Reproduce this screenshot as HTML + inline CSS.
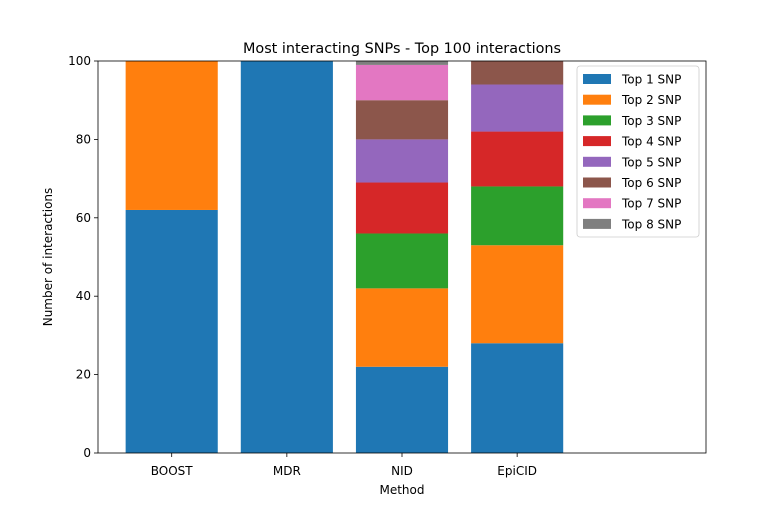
<!DOCTYPE html>
<html><head><meta charset="utf-8"><style>
body{margin:0;background:#fff;}
svg{display:block;font-family:"DejaVu Sans","Liberation Sans",sans-serif;}
</style></head><body>
<svg id="chart" width="784" height="509" viewBox="0 0 784 509"></svg>
<script>
const categories = ["BOOST","MDR","NID","EpiCID"];
const seriesNames = ["Top 1 SNP","Top 2 SNP","Top 3 SNP","Top 4 SNP","Top 5 SNP","Top 6 SNP","Top 7 SNP","Top 8 SNP"];
const top1 = [62,100,22,28];
const top2 = [38,0,20,25];
const top3 = [0,0,14,15];
const top4 = [0,0,13,14];
const top5 = [0,0,11,12];
const top6 = [0,0,10,6];
const top7 = [0,0,9,0];
const top8 = [0,0,1,0];
const yTicks = [0,20,40,60,80,100];
const colors = ["#1f77b4","#ff7f0e","#2ca02c","#d62728","#9467bd","#8c564b","#e377c2","#7f7f7f"];
const series = [top1,top2,top3,top4,top5,top6,top7,top8];

const NS="http://www.w3.org/2000/svg";
const svg=document.getElementById('chart');
const L=98,R=706,T=61,B=453;
const xMin=-0.64,xMax=4.64;
const xs=v=>L+(v-xMin)/(xMax-xMin)*(R-L);
const ys=v=>B-(v/100)*(B-T);
function mk(tag,attrs,text){const e=document.createElementNS(NS,tag);for(const k in attrs)e.setAttribute(k,attrs[k]);if(text!==undefined)e.textContent=text;svg.appendChild(e);return e;}

const bw=0.8;
categories.forEach((c,i)=>{
  let base=0;
  series.forEach((s,j)=>{
    const v=s[i];
    if(v>0){
      const r=mk('rect',{x:xs(i-bw/2),y:ys(base+v),width:xs(i+bw/2)-xs(i-bw/2),height:ys(base)-ys(base+v),fill:colors[j]});
      
      
    }
    base+=v;
  });
  const t=mk('text',{x:xs(i),y:B+22,'text-anchor':'middle','font-size':12,fill:'#000'},c);
  
  
  const tk=mk('line',{x1:xs(i),x2:xs(i),y1:B,y2:B+4,stroke:'#000','stroke-width':0.8});
  
  
});
yTicks.forEach(v=>{
  const tk=mk('line',{x1:L-4,x2:L,y1:ys(v),y2:ys(v),stroke:'#000','stroke-width':0.8});
  
  
  const t=mk('text',{x:L-7,y:ys(v)+4,'text-anchor':'end','font-size':12,fill:'#000'},String(v));
  
  
});
const fr=mk('rect',{x:L,y:T,width:R-L,height:B-T,fill:'none',stroke:'#000','stroke-width':0.8});


const ti=mk('text',{x:(L+R)/2,y:T-8,'text-anchor':'middle','font-size':14.4,fill:'#000'},'Most interacting SNPs - Top 100 interactions');


const xt=mk('text',{x:(L+R)/2,y:494,'text-anchor':'middle','font-size':12,fill:'#000'},'Method');


const yt=mk('text',{x:52,y:(T+B)/2,'text-anchor':'middle','font-size':12,fill:'#000',transform:'rotate(-90 52 '+((T+B)/2)+')'},'Number of interactions');



const lg=mk('rect',{x:577,y:66,width:122,height:171,rx:3,fill:'#fff','fill-opacity':0.8,stroke:'#ccc','stroke-width':0.8});


seriesNames.forEach((n,j)=>{
  const y=74+j*20.7;
  const sw=mk('rect',{x:583,y:y,width:28,height:10,fill:colors[j]});
  
  
  const t=mk('text',{x:622,y:y+9.5,'font-size':12,fill:'#000'},n);
  
  
});
</script>
</body></html>
